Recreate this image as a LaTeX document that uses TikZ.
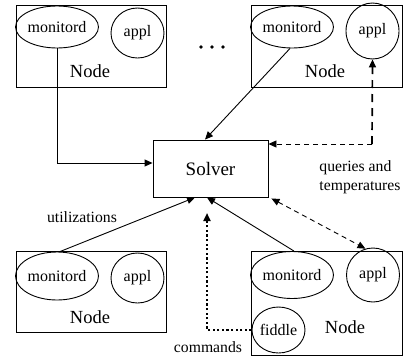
\documentclass[tikz,border=0pt]{standalone}
\usepackage{fontspec}
\setmainfont{Liberation Serif}
\usetikzlibrary{arrows.meta,shapes.geometric}
\begin{document}
\begin{tikzpicture}[x=1pt,y=-1pt,line width=0.9pt,
  nodebox/.style={draw,rectangle,inner sep=0pt},
  proc/.style={draw,ellipse,inner sep=0pt,font=\fontsize{16}{19}\selectfont},
  lbl/.style={inner sep=0pt,font=\fontsize{15.7}{19}\selectfont},
  big/.style={inner sep=0pt,font=\fontsize{18.5}{22}\selectfont},
  tip/.style={-{Triangle[length=8pt,width=7pt]}},
  twotip/.style={{Triangle[length=8pt,width=7pt]}-{Triangle[length=8pt,width=7pt]}},
  thindash/.style={line width=0.9pt,dash pattern=on 5pt off 4pt},
  thickdash/.style={line width=1.7pt,dash pattern=on 8pt off 6pt},
  thickdot/.style={line width=2.2pt,dash pattern=on 2.2pt off 2.4pt}]
\useasboundingbox (0,0) rectangle (403,356);

% top-left node
\node[nodebox,minimum width=150pt,minimum height=82pt] (b1) at (91,46) {};
\node[proc,minimum width=82pt,minimum height=42pt] (m1) at (57,27) {monitord};
\node[proc,minimum width=53pt,minimum height=50pt] (a1) at (137.5,33) {appl};
\node[big] (n1) at (90,71) {Node};

% top-right node
\node[nodebox,minimum width=151pt,minimum height=82pt] (b2) at (326.5,46) {};
\node[proc,minimum width=82pt,minimum height=42pt] (m2) at (292,27) {monitord};
\node[proc,minimum width=53pt,minimum height=56pt] (a2) at (372.5,31) {appl};
\node[big] (n2) at (325,71) {Node};

% dots
\fill (201,47) circle (1.8);
\fill (212,47) circle (1.8);
\fill (223,47) circle (1.8);

% solver
\node[nodebox,minimum width=115pt,minimum height=57pt,font=\fontsize{19}{22}\selectfont] (solver) at (210.5,168.5) {Solver};

% bottom-left node
\node[nodebox,minimum width=150pt,minimum height=81pt] (b3) at (91,291.5) {};
\node[proc,minimum width=82pt,minimum height=48pt] (m3) at (57,276) {monitord};
\node[proc,minimum width=53pt,minimum height=50pt] (a3) at (137.5,278) {appl};
\node[big] (n3) at (90,317) {Node};

% bottom-right node
\node[nodebox,minimum width=151pt,minimum height=104pt] (b4) at (326.5,303) {};
\node[proc,minimum width=82pt,minimum height=47pt] (m4) at (292,275) {monitord};
\node[proc,minimum width=53pt,minimum height=54pt] (a4) at (373,275) {appl};
\node[proc,minimum width=53pt,minimum height=46pt] (f4) at (278.5,330) {fiddle};
\node[big] (n4) at (345,327) {Node};

% labels
\node[lbl,align=left,anchor=west] (qt) at (319,177.5) {queries and\\temperatures};
\node[lbl] (ut) at (82,217) {utilizations};
\node[lbl] (cm) at (208,347) {commands};

% connectors
\draw[tip] (m1.south) |- ([yshift=5.5pt]solver.west);
\draw[tip] ([xshift=-2pt]m2.south) -- ([xshift=-5.5pt]solver.north);

\coordinate (qc) at (372,144);
\draw[thickdash,tip] (qc) -- (a2.south);
\draw[thindash,tip] (qc) -- ([yshift=24.5pt]solver.east);

\draw[tip] ([xshift=3pt]m3.north) -- ([xshift=-15.5pt]solver.south);
\draw[tip] ([xshift=2pt]m4.north) -- ([xshift=-3.5pt]solver.south);
\draw[thindash,twotip] ([xshift=3pt,yshift=-1pt]solver.south east) -- (a4.106);

\coordinate (ctip) at (207,213);
\draw[thickdot,tip] (f4.west) -| (ctip);
\end{tikzpicture}
\end{document}
